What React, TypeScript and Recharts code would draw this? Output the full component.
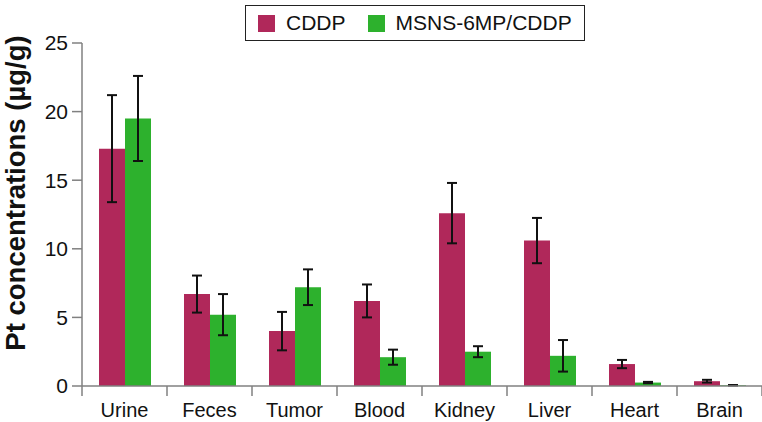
import { BarChart, Bar, XAxis, YAxis, ErrorBar, Legend } from "recharts";

document.body.style.margin = "0";

const organs = ["Urine", "Feces", "Tumor", "Blood", "Kidney", "Liver", "Heart", "Brain"];
const cddp = [17.3, 6.7, 4.0, 6.2, 12.6, 10.6, 1.6, 0.35];
const cddpErr = [3.9, 1.35, 1.4, 1.2, 2.2, 1.65, 0.3, 0.1];
const msns = [19.5, 5.2, 7.2, 2.1, 2.5, 2.2, 0.25, 0.05];
const msnsErr = [3.1, 1.5, 1.3, 0.55, 0.4, 1.15, 0.05, 0.02];
const yTicks = [0, 5, 10, 15, 20, 25];

const data = organs.map((name, i) => ({
  name,
  cddp: cddp[i],
  cddpErr: cddpErr[i],
  msns: msns[i],
  msnsErr: msnsErr[i],
}));

const RED = "#B0285A";
const GREEN = "#2DB12D";
const AXIS = "#808080";
const FONT = "'Liberation Sans', Arial, sans-serif";

function OrganTick(props: any) {
  const { x, y, payload, index } = props;
  const half = payload?.offset ?? 42.5;
  return (
    <g>
      {index === 0 && (
        <line x1={x - half} y1={y - 8} x2={x - half} y2={y + 2} stroke={AXIS} strokeWidth={1.5} />
      )}
      <line x1={x + half} y1={y - 8} x2={x + half} y2={y + 2} stroke={AXIS} strokeWidth={1.5} />
      <text x={x} y={y + 23} textAnchor="middle" fontSize={20} fill="#111" fontFamily={FONT}>
        {payload.value}
      </text>
    </g>
  );
}

// rotated y-axis title beside the axis
function YTitle() {
  const cx = 25;
  const cy = 193;
  return (
    <text
      x={cx}
      y={cy}
      transform={`rotate(-90, ${cx}, ${cy})`}
      textAnchor="middle"
      fontSize={27.5}
      fontWeight="bold"
      fill="#111"
      fontFamily={FONT}
    >
      Pt concentrations (µg/g)
    </text>
  );
}

function BoxLegend() {
  const items = [
    { label: "CDDP", color: RED },
    { label: "MSNS-6MP/CDDP", color: GREEN },
  ];
  return (
    <div
      style={{
        display: "flex",
        alignItems: "center",
        border: "1.5px solid #222",
        padding: "5px 12px",
        fontFamily: FONT,
        fontSize: 21,
        color: "#111",
        background: "#fff",
      }}
    >
      {items.map((it, i) => (
        <div key={i} style={{ display: "flex", alignItems: "center", marginLeft: i ? 22 : 0 }}>
          <span style={{ width: 17, height: 17, background: it.color, marginRight: 11 }} />
          <span>{it.label}</span>
        </div>
      ))}
    </div>
  );
}

export default function App() {
  return (
    <BarChart
      width={762}
      height={422}
      data={data}
      margin={{ top: 7, right: 0, bottom: 6, left: 0 }}
      barCategoryGap="20%"
      barGap={0}
    >
      <XAxis
        dataKey="name"
        stroke={AXIS}
        strokeWidth={1.5}
        tickLine={false}
        tick={<OrganTick />}
        height={30}
        interval={0}
      />
      <YAxis
        domain={[0, 25]}
        ticks={yTicks}
        width={82}
        stroke={AXIS}
        strokeWidth={1.5}
        tickSize={10}
        tickMargin={4}
        tick={{ fontSize: 21, fill: "#111", fontFamily: FONT }}
        label={<YTitle />}
      />
      <Legend
        verticalAlign="top"
        content={<BoxLegend />}
        wrapperStyle={{ top: 5, left: 245, width: "auto" }}
      />
      <Bar dataKey="cddp" name="CDDP" fill={RED} isAnimationActive={false}>
        <ErrorBar dataKey="cddpErr" width={5} stroke="#111" strokeWidth={2} />
      </Bar>
      <Bar dataKey="msns" name="MSNS-6MP/CDDP" fill={GREEN} isAnimationActive={false}>
        <ErrorBar dataKey="msnsErr" width={5} stroke="#111" strokeWidth={2} />
      </Bar>
    </BarChart>
  );
}
